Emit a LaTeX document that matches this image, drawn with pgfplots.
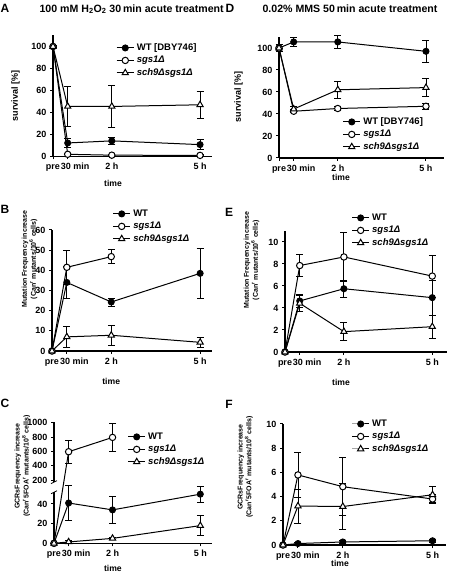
\documentclass[border=0pt]{standalone}
\usepackage{fontspec}
\setmainfont{Liberation Sans}
\usepackage{pgfplots}
\pgfplotsset{compat=1.18}
\newcommand{\fs}[1]{\fontsize{#1}{#1}\selectfont}
\pgfplotsset{
  panel/.style={
    scale only axis, axis lines=left,
    axis line style={-, line width=1.1pt},
    xmin=0,
    xtick={0,0.5,2,5},
    xticklabels={pre,{\hspace*{15pt}30 min},2 h,5 h},
    tick style={line width=1pt, black},
    major tick length=3pt, tick align=outside,
    /pgf/number format/assume math mode=true,
    ticklabel style={font=\bfseries\fs{9}},
    xticklabel style={text height=6.5pt, text depth=1pt},
    xlabel=time,
    xlabel style={font=\bfseries\fs{8.6}, anchor=center},
    ylabel style={font=\bfseries\fs{7}, anchor=center, align=center},
    legend style={draw=none, fill=none, inner sep=0pt, anchor=north west,
      font=\bfseries\fs{9.5}, row sep=3pt, column sep=2pt,
      nodes={inner sep=0.5pt, text height=6.5pt, text depth=2pt}},
    legend cell align=left,
    clip=false,
  },
  eb/.style={error bars/y dir=both, error bars/y explicit,
    error bars/error bar style={line width=0.9pt, black},
    error bars/error mark options={rotate=90, mark size=3.5pt, line width=0.9pt, black}},
  wt/.style={black, line width=1pt, mark=*, mark size=3pt, mark options={fill=black}, eb},
  sg/.style={black, line width=1pt, mark=*, mark size=3.2pt, mark options={fill=white}, eb},
  sgn/.style={black, line width=1pt, mark=*, mark size=3.2pt, mark options={fill=white}},
  sc/.style={black, line width=1pt, mark=triangle*, mark size=3.6pt, mark options={fill=white}, eb},
}
\begin{document}
\begin{tikzpicture}
\path[use as bounding box] (0,0) rectangle (448pt,575pt);
% titles and letters
\node[font=\bfseries\fs{12}] at (5pt,567pt) {A};
\node[font=\bfseries\fs{10.6}, anchor=west] at (36pt,566pt) {100 mM H\textsubscript{2}O\textsubscript{2} 30\,min acute treatment};
\node[font=\bfseries\fs{12}] at (230pt,567pt) {D};
\node[font=\bfseries\fs{10.6}, anchor=west] at (259pt,566pt) {0.02\% MMS 50\,min acute treatment};
\node[font=\bfseries\fs{12}] at (5pt,366pt) {B};
\node[font=\bfseries\fs{12}] at (229pt,363pt) {E};
\node[font=\bfseries\fs{12}] at (5pt,172pt) {C};
\node[font=\bfseries\fs{12}] at (229pt,171pt) {F};

% ---------- A ----------
\begin{axis}[panel, at={(53pt,418.5pt)}, anchor=south west, width=158.8pt, height=121pt,
  xmax=5.4, ymin=0, ymax=110, ytick={0,20,...,100},
  ylabel={survival [\%]}, ylabel style={font=\bfseries\fs{9}, at={(axis description cs:-0.236,0.5)}},
  xlabel style={at={(axis description cs:0.378,-0.219)}},
  legend style={at={(axis description cs:0.397,0.938)}}]
\addplot[wt] coordinates {(0,100)+-(0,1) (0.5,12.3)+-(0,4) (2,14.2)+-(0,3) (5,10.8)+-(0,4.5)};
\addplot[sg] coordinates {(0,100)+-(0,0) (0.5,2)+-(0,0.5) (2,1.2)+-(0,0.5) (5,1)+-(0,0.5)};
\addplot[sc] coordinates {(0,100)+-(0,0) (0.5,45.5)+-(0,18) (2,45.5)+-(0,19.5) (5,47)+-(0,12.3)};
\legend{{WT [DBY746]}, \textit{sgs1Δ}, \textit{sch9Δsgs1Δ}}
\end{axis}

% ---------- D ----------
\begin{axis}[panel, at={(279pt,417pt)}, anchor=south west, width=164.6pt, height=121pt,
  xmax=5.6, ymin=0, ymax=110, ytick={0,20,...,100},
  ylabel={survival [\%]}, ylabel style={font=\bfseries\fs{9}, at={(axis description cs:-0.246,0.504)}},
  xlabel style={at={(axis description cs:0.377,-0.157)}},
  legend style={at={(axis description cs:0.386,0.339)}}]
\addplot[wt] coordinates {(0,100)+-(0,3) (0.5,105.5)+-(0,4.5) (2,105.5)+-(0,6) (5,97)+-(0,10)};
\addplot[sg] coordinates {(0,100)+-(0,0) (0.5,42.5)+-(0,1.5) (2,45)+-(0,1.5) (5,47)+-(0,3)};
\addplot[sc] coordinates {(0,100)+-(0,0) (0.5,44.5)+-(0,2) (2,62)+-(0,8) (5,64)+-(0,8)};
\legend{{WT [DBY746]}, \textit{sgs1Δ}, \textit{sch9Δsgs1Δ}}
\end{axis}

% ---------- B ----------
\begin{axis}[panel, at={(52pt,224pt)}, anchor=south west, width=160pt, height=121pt,
  xmax=5.4, ymin=0, ymax=60, ytick={0,10,...,60},
  ylabel={Mutation Frequency increase\\(Can\textsuperscript{r} mutants/10\textsuperscript{6} cells)},
  ylabel style={at={(axis description cs:-0.14,0.76)}},
  xlabel style={at={(axis description cs:0.37,-0.248)}},
  legend style={at={(axis description cs:0.378,1.174)}}]
\addplot[wt] coordinates {(0,0)+-(0,0) (0.5,34)+-(0,8) (2,24.3)+-(0,2) (5,38.5)+-(0,12.5)};
\addplot[sg] coordinates {(0,0)+-(0,0) (0.5,41.5)+-(0,8.5) (2,46.8)+-(0,3.5)};
\addplot[sc] coordinates {(0,0)+-(0,0) (0.5,7)+-(0,5) (2,7.8)+-(0,5) (5,4.3)+-(0,2.3)};
\legend{WT, \textit{sgs1Δ}, \textit{sch9Δsgs1Δ}}
\end{axis}

% ---------- E ----------
\begin{axis}[panel, at={(285pt,223pt)}, anchor=south west, width=162pt, height=121pt,
  xmax=5.5, ymin=0, ymax=11, ytick={0,2,...,10},
  ylabel={Mutation Frequency increase\\(Can\textsuperscript{r} mutants/10\textsuperscript{6} cells)},
  ylabel style={at={(axis description cs:-0.207,0.76)}},
  xlabel style={at={(axis description cs:0.346,-0.248)}},
  legend style={at={(axis description cs:0.41,1.149)}}]
\addplot[wt] coordinates {(0,0)+-(0,0) (0.5,4.64)+-(0,0.6) (2,5.75)+-(0,0.75) (5,4.94)+-(0,1.6)};
\addplot[sg] coordinates {(0,0)+-(0,0) (0.5,7.86)+-(0,1) (2,8.64)+-(0,2.2) (5,6.9)+-(0,1.9)};
\addplot[sc] coordinates {(0,0)+-(0,0) (0.5,4.43)+-(0,0.75) (2,1.85)+-(0,0.8) (5,2.3)+-(0,1.05)};
\legend{WT, \textit{sgs1Δ}, \textit{sch9Δsgs1Δ}}
\end{axis}

% ---------- C ----------
\begin{axis}[panel, at={(54pt,31.7pt)}, anchor=south west, width=158pt, height=121.3pt,
  xmax=5.4, ymin=0, ymax=1010,
  y coord trafo/.code={\pgfmathparse{(#1<=100)?(#1):(64.4+(#1-200)*0.0729)}},
  ytick={0,20,40,200,400,600,800,1000},
  yticklabels={0,20,40,200,400,600,800,1000},
  y axis line style={draw=none},
  ylabel={GCRsFrequency increase\\(Can\textsuperscript{r}5FOA\textsuperscript{r} mutants/10\textsuperscript{8} cells)},
  ylabel style={at={(axis description cs:-0.2,0.637)}},
  xlabel style={at={(axis description cs:0.373,-0.204)}},
  legend style={at={(axis description cs:0.465,0.918)}}]
\draw[line width=1.1pt] (rel axis cs:0,0) -- (rel axis cs:0,0.421);
\draw[line width=1.1pt] (rel axis cs:0,0.504) -- (rel axis cs:0,1);
\coordinate (b1) at (rel axis cs:0,0.421);
\coordinate (b2) at (rel axis cs:0,0.504);
\draw[line width=0.8pt] ([xshift=-3pt,yshift=-1.5pt]b1) -- ([xshift=3pt,yshift=1.5pt]b1);
\draw[line width=0.8pt] ([xshift=-3pt,yshift=-1.5pt]b2) -- ([xshift=3pt,yshift=1.5pt]b2);
\addplot[black, line width=0.9pt, mark=-, mark size=3.5pt, mark options={line width=0.9pt}, forget plot] coordinates {(0.5,435) (0.5,755)};
\addplot[black, line width=0.9pt, mark=-, mark size=3.5pt, mark options={line width=0.9pt}, forget plot] coordinates {(2,600) (2,990)};
\addplot[wt] coordinates {(0,0)+-(0,0) (0.5,41)+-(0,17.5) (2,34)+-(0,14) (5,50)+-(0,8)};
\addplot[sgn] coordinates {(0,0) (0.5,595) (2,795)};
\addplot[sc] coordinates {(0,0)+-(0,0) (0.5,1.4)+-(0,1) (2,5)+-(0,1) (5,18)+-(0,10.5)};
\legend{WT, \textit{sgs1Δ}, \textit{sch9Δsgs1Δ}}
\end{axis}

% ---------- F ----------
\begin{axis}[panel, at={(283pt,30pt)}, anchor=south west, width=163pt, height=121pt,
  xmax=5.45, ymin=0, ymax=10, ytick={0,2,...,10},
  ylabel={GCRsFrequency increase\\(Can\textsuperscript{r}5FOA\textsuperscript{r} mutants/10\textsuperscript{8} cells)},
  ylabel style={at={(axis description cs:-0.232,0.645)}},
  xlabel style={at={(axis description cs:0.35,-0.149)}},
  legend style={at={(axis description cs:0.42,1.041)}}]
\addplot[wt] coordinates {(0,0)+-(0,0) (0.5,0.12)+-(0,0.05) (2,0.25)+-(0,0.1) (5,0.35)+-(0,0.1)};
\addplot[sg] coordinates {(0,0)+-(0,0) (0.5,5.79)+-(0,1.87) (2,4.82)+-(0,2.4) (5,3.8)+-(0,0.4)};
\addplot[sc] coordinates {(0,0)+-(0,0) (0.5,3.22)+-(0,1.4) (2,3.18)+-(0,1.9) (5,4.15)+-(0,0.67)};
\legend{WT, \textit{sgs1Δ}, \textit{sch9Δsgs1Δ}}
\end{axis}
\end{tikzpicture}
\end{document}
